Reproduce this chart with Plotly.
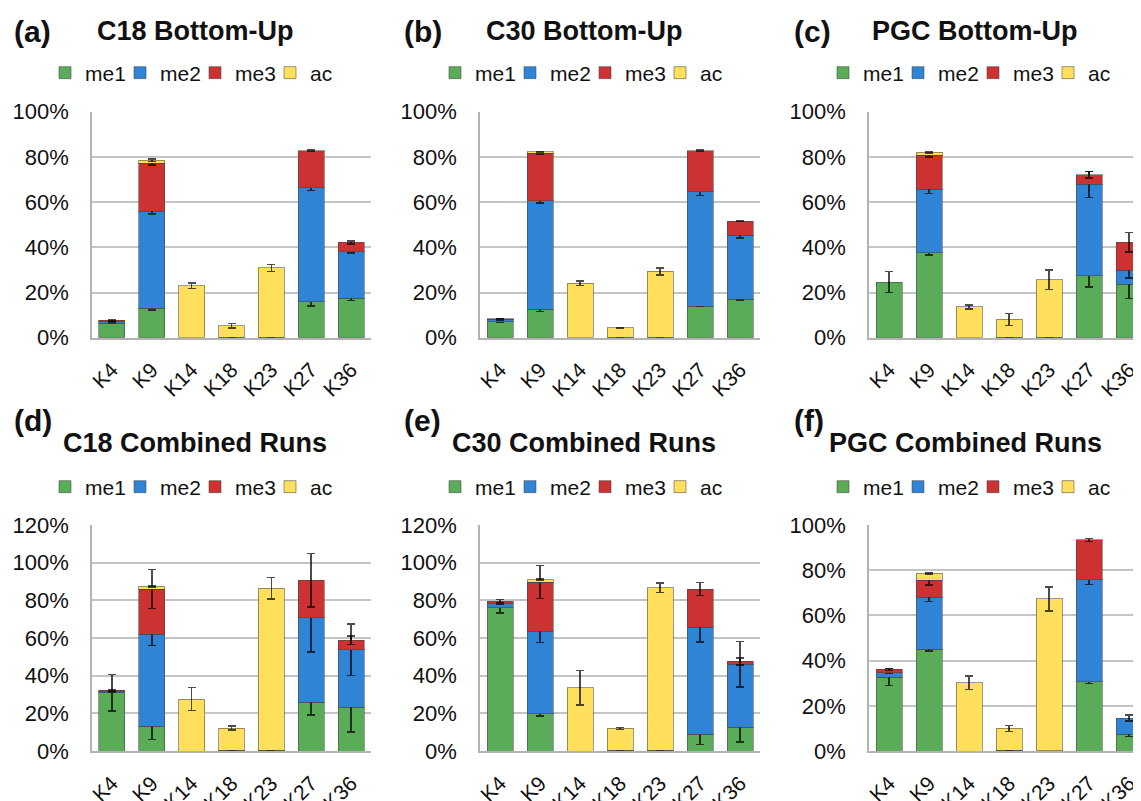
import plotly.graph_objects as go

# The page body has an 8px margin; the figure is shifted by this offset.
OFF = 8
W, H = 1141 - OFF, 801 - OFF

categories = ["K4", "K9", "K14", "K18", "K23", "K27", "K36"]
series_names = ["me1", "me2", "me3", "ac"]
colors = {"me1": "#5aac58", "me2": "#3084d6", "me3": "#cc3232", "ac": "#ffdf5c"}

# (a) C18 Bottom-Up
a_me1 = [6.5, 13.0, 0, 0.2, 0.2, 15.8, 17.4]
a_me2 = [0.8, 42.9, 0, 0, 0, 50.6, 20.7]
a_me3 = [0.4, 21.4, 0, 0, 0, 16.3, 4.1]
a_ac = [0, 1.2, 22.9, 5.0, 30.7, 0, 0]
a_e1 = [0.3, 0.7, 0, 0.1, 0.1, 1.8, 1.0]
a_e2 = [0.3, 1.2, 0, 0, 0, 1.2, 0.7]
a_e3 = [0.3, 0.8, 0, 0, 0, 0.4, 0.7]
a_eac = [0, 0.6, 1.2, 1.0, 1.5, 0, 0]

# (b) C30 Bottom-Up
b_me1 = [7.1, 12.5, 0, 0.2, 0.2, 14.0, 17.0]
b_me2 = [1.0, 48.1, 0, 0, 0, 50.6, 28.4]
b_me3 = [0.2, 21.0, 0, 0, 0, 18.1, 6.2]
b_ac = [0, 0.7, 24.0, 4.1, 29.1, 0, 0]
b_e1 = [0.3, 0.8, 0, 0.1, 0.1, 0.3, 0.4]
b_e2 = [0.5, 1.0, 0, 0, 0, 1.7, 1.2]
b_e3 = [0.2, 0.3, 0, 0, 0, 0.4, 0.2]
b_eac = [0, 0.2, 1.0, 0.3, 1.5, 0, 0]

# (c) PGC Bottom-Up
c_me1 = [24.6, 37.6, 0, 0.2, 0.2, 27.4, 23.6]
c_me2 = [0, 28.0, 0, 0, 0, 40.4, 6.2]
c_me3 = [0, 15.2, 0, 0, 0, 4.3, 12.4]
c_ac = [0, 1.2, 13.6, 7.9, 25.5, 0, 0]
c_e1 = [4.6, 1.0, 0, 0.1, 0.1, 4.9, 6.3]
c_e2 = [0, 1.8, 0, 0, 0, 5.8, 3.4]
c_e3 = [0, 0.8, 0, 0, 0, 1.5, 4.3]
c_eac = [0, 0.3, 0.8, 2.6, 4.3, 0, 0]

# (d) C18 Combined Runs
d_me1 = [31.0, 13.1, 0, 0.5, 0.3, 26.0, 23.2]
d_me2 = [0.7, 49.0, 0, 0, 0, 44.8, 30.6]
d_me3 = [0.5, 23.9, 0, 0, 0, 19.8, 5.0]
d_ac = [0, 1.4, 27.6, 11.7, 86.2, 0, 0]
d_e1 = [9.7, 7.1, 0, 0.2, 0.2, 6.8, 13.2]
d_e2 = [0.3, 6.0, 0, 0, 0, 18.1, 13.6]
d_e3 = [0.3, 10.4, 0, 0, 0, 14.2, 2.2]
d_eac = [0, 0.3, 6.0, 1.1, 5.7, 0, 0]

# (e) C30 Combined Runs
e_me1 = [76.1, 19.8, 0, 0.4, 0.3, 9.0, 12.6]
e_me2 = [2.1, 43.7, 0, 0, 0, 56.7, 33.4]
e_me3 = [1.3, 26.2, 0, 0, 0, 20.3, 1.6]
e_ac = [0, 1.3, 33.6, 11.6, 86.4, 0, 0]
e_e1 = [2.9, 1.2, 0, 0.2, 0.2, 5.6, 7.9]
e_e2 = [0.5, 6.0, 0, 0, 0, 7.9, 12.1]
e_e3 = [1.0, 8.7, 0, 0, 0, 3.5, 1.9]
e_eac = [0, 0.3, 9.1, 0.5, 2.6, 0, 0]

# (f) PGC Combined Runs
f_me1 = [32.6, 45.0, 0, 0.4, 0.2, 30.7, 7.5]
f_me2 = [2.1, 23.0, 0, 0, 0, 45.1, 7.1]
f_me3 = [1.4, 7.5, 0, 0, 0, 17.6, 0]
f_ac = [0, 3.1, 30.2, 9.6, 67.1, 0, 0]
f_e1 = [3.7, 0.7, 0, 0.1, 0.1, 0.9, 1.0]
f_e2 = [0.4, 1.9, 0, 0, 0, 2.2, 1.3]
f_e3 = [0.5, 2.1, 0, 0, 0, 0.6, 0]
f_eac = [0, 0.3, 3.0, 1.3, 5.3, 0, 0]

panel_labels = ["(a)", "(b)", "(c)", "(d)", "(e)", "(f)"]
panel_titles = ["C18 Bottom-Up", "C30 Bottom-Up", "PGC Bottom-Up",
                "C18 Combined Runs", "C30 Combined Runs", "PGC Combined Runs"]
y_max = [100, 100, 100, 120, 120, 100]

panels = [
    ([a_me1, a_me2, a_me3, a_ac], [a_e1, a_e2, a_e3, a_eac]),
    ([b_me1, b_me2, b_me3, b_ac], [b_e1, b_e2, b_e3, b_eac]),
    ([c_me1, c_me2, c_me3, c_ac], [c_e1, c_e2, c_e3, c_eac]),
    ([d_me1, d_me2, d_me3, d_ac], [d_e1, d_e2, d_e3, d_eac]),
    ([e_me1, e_me2, e_me3, e_ac], [e_e1, e_e2, e_e3, e_eac]),
    ([f_me1, f_me2, f_me3, f_ac], [f_e1, f_e2, f_e3, f_eac]),
]

# layout geometry (screen pixels of the target picture)
plot_x = [(92, 371), (480, 760), (869, 1141), (92, 371), (480, 760), (869, 1141)]
plot_y = [(111.7, 337.7)] * 3 + [(525, 751)] * 3
x_range_hi = [6.5, 6.5, 6.3, 6.5, 6.5, 6.3]
label_pos = [(12, 31), (402, 31), (792, 31), (12, 420), (402, 420), (792, 420)]
title_pos = [(195, 31), (584, 31), (974, 31), (195, 443), (584, 443), (966, 443)]
legend_left = [45, 435, 823, 45, 435, 823]
legend_y = [73, 73, 73, 487, 487, 487]

FONT = "Liberation Sans, Arial, sans-serif"

def px(x):
    return (x - OFF) / W

def py(y):
    return 1 - (y - OFF) / H

fig = go.Figure()
layout = dict(
    template="none",
    width=W, height=H, margin=dict(l=0, r=0, t=0, b=0, autoexpand=False),
    paper_bgcolor="white", plot_bgcolor="white",
    barmode="stack", bargap=0.35,
    font=dict(family=FONT, size=20, color="#111111"),
    annotations=[],
)

for i, (vals, errs) in enumerate(panels):
    n = i + 1
    xa = "x" if n == 1 else f"x{n}"
    ya = "y" if n == 1 else f"y{n}"
    lg = "legend" if n == 1 else f"legend{n}"
    for name, v, e in zip(series_names, vals, errs):
        yv = [val if val > 0 else None for val in v]
        ev = [err if val > 0 else None for val, err in zip(v, e)]
        fig.add_trace(go.Bar(
            x=categories, y=yv, name=name, xaxis=xa, yaxis=ya, legend=lg,
            marker=dict(color=colors[name], line=dict(color="rgba(70,70,70,0.55)", width=1)),
            error_y=dict(type="data", array=ev, visible=True,
                         color="rgba(0,0,0,0.7)", thickness=1.5, width=4),
            hoverinfo="skip",
        ))
    x0, x1 = plot_x[i]
    y0, y1 = plot_y[i]
    layout["xaxis" if n == 1 else f"xaxis{n}"] = dict(
        domain=[max(0, px(x0)), min(1, px(x1))], anchor=ya, range=[-0.5, x_range_hi[i]],
        automargin=False,
        showline=True, linecolor="#b3b3b3", linewidth=1.5,
        showgrid=False, tickangle=-45, ticks="",
        tickfont=dict(family=FONT, size=21, color="#111111"),
        ticklabelstandoff=10, fixedrange=True,
    )
    layout["yaxis" if n == 1 else f"yaxis{n}"] = dict(
        domain=[py(y1), py(y0)], anchor=xa, range=[0, y_max[i]],
        automargin=False,
        dtick=20, ticksuffix="%", showgrid=True, gridcolor="#c4c4c4", gridwidth=1.5,
        showline=True, linecolor="#b3b3b3", linewidth=1.5, zeroline=False,
        ticks="", tickfont=dict(family=FONT, size=22, color="#111111"),
        ticklabelstandoff=17, fixedrange=True,
    )
    layout[lg] = dict(
        orientation="h", x=px(legend_left[i]), y=py(legend_y[i]),
        xanchor="left", yanchor="middle",
        traceorder="normal",
        font=dict(family=FONT, size=21, color="#111111"),
        itemwidth=30, entrywidth=30, tracegroupgap=0, bgcolor="rgba(0,0,0,0)",
        itemclick=False, itemdoubleclick=False,
    )
    tx, ty = label_pos[i]
    layout["annotations"].append(dict(
        text="<b>" + panel_labels[i] + "</b>", x=px(tx), y=py(ty), xref="paper", yref="paper",
        xanchor="left", yanchor="middle", showarrow=False,
        font=dict(family=FONT, size=30, color="#111111"),
    ))
    cx, cy = title_pos[i]
    layout["annotations"].append(dict(
        text="<b>" + panel_titles[i] + "</b>", x=px(cx), y=py(cy), xref="paper", yref="paper",
        xanchor="center", yanchor="middle", showarrow=False,
        font=dict(family=FONT, size=27, color="#111111"),
    ))

fig.update_layout(**layout)
fig.write_html("out.html")
